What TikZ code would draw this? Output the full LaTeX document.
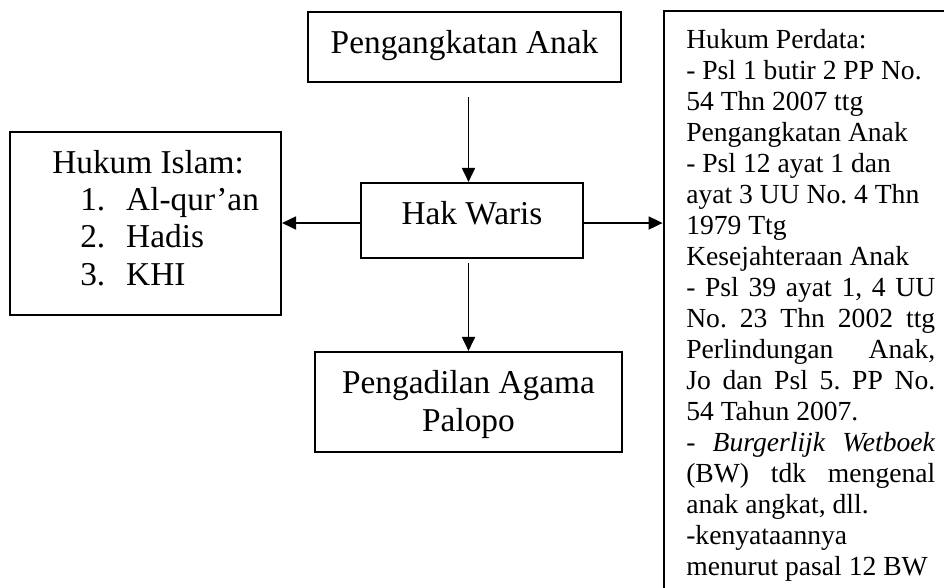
\documentclass[tikz,border=0pt]{standalone}
\usepackage{fontspec}
\setmainfont{Liberation Serif}
\usetikzlibrary{arrows.meta}
\frenchspacing
\newlength\pw
\setlength\pw{186.75pt}
\newcommand\jline[1]{\makebox[\pw][s]{#1}}
\begin{document}
\begin{tikzpicture}[x=0.75pt,y=-0.75pt,
  box/.style={draw, line width=1.6pt, inner sep=0pt},
  lbl/.style={inner sep=0pt, font=\fontsize{25pt}{28pt}\selectfont\frenchspacing},
  small/.style={inner sep=0pt, font=\fontsize{20.7pt}{23.25pt}\selectfont\frenchspacing},
  arr/.style={line width=1.4pt, -{Triangle[length=10.5pt,width=9.75pt]}}]
\useasboundingbox (0,0) rectangle (944,587);
\clip (0,0) rectangle (944,587);
% boxes
\node[box, minimum width=313*0.75pt, minimum height=70*0.75pt] (top) at (464.5,47) {};
\node[box, minimum width=271*0.75pt, minimum height=183*0.75pt] (islam) at (145.5,223.5) {};
\node[box, minimum width=222*0.75pt, minimum height=75*0.75pt] (hak) at (472,220.5) {};
\node[box, minimum width=307*0.75pt, minimum height=100*0.75pt] (pa) at (468.5,402) {};
\node[box, line width=2.1pt, minimum width=300*0.75pt, minimum height=600*0.75pt] (perdata) at (814,311) {};
% texts (base anchor = baseline of the last line)
\node[lbl, anchor=base] (toptext) at (464.5,53) {Pengangkatan Anak};
\node[lbl, anchor=base] (haktext) at (472,224) {Hak Waris};
\node[lbl, anchor=base, align=center] (patext) at (468.5,431) {Pengadilan Agama\\Palopo};
\node[lbl, anchor=base west, align=left] (islamtext) at (52,285) {Hukum Islam:\\
\hspace*{21pt}\makebox[34.5pt][l]{1.}Al-qur’an\\
\hspace*{21pt}\makebox[34.5pt][l]{2.}Hadis\\
\hspace*{21pt}\makebox[34.5pt][l]{3.}KHI};
\node[small, anchor=base west, align=left] (perdatatext) at (686,575) {Hukum Perdata:\\
- Psl 1 butir 2 PP No.\\
54 Thn 2007 ttg\\
Pengangkatan Anak\\
- Psl 12 ayat 1 dan\\
ayat 3 UU No. 4 Thn\\
1979 Ttg\\
Kesejahteraan Anak\\
\jline{- Psl 39 ayat 1, 4 UU}\\
\jline{No. 23 Thn 2002 ttg}\\
\jline{Perlindungan Anak,}\\
\jline{Jo dan Psl 5. PP No.}\\
54 Tahun 2007.\\
\jline{- \textit{Burgerlijk Wetboek}}\\
\jline{(BW) tdk mengenal}\\
anak angkat, dll.\\
-kenyataannya\\
menurut pasal 12 BW};
% connectors
\coordinate (ax) at (468.5,0);
\coordinate (ay) at (0,223);
\draw[arr, shorten <=14*0.75pt] (top.south -| ax) -- (hak.north -| ax);
\draw[arr, shorten <=4*0.75pt] (hak.south -| ax) -- (pa.north -| ax);
\draw[arr] (hak.west |- ay) -- (islam.east |- ay);
\draw[arr] (hak.east |- ay) -- (perdata.west |- ay);
\end{tikzpicture}
\end{document}
